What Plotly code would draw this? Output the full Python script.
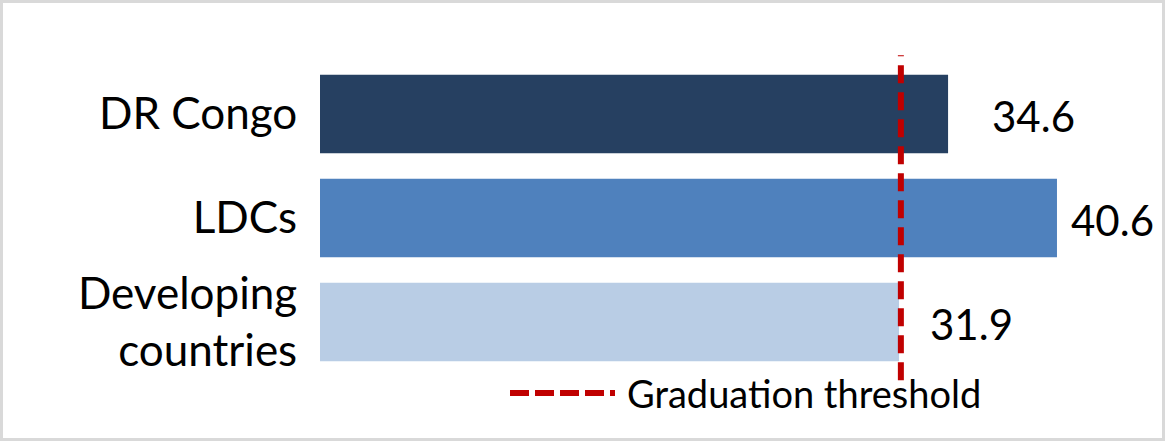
import plotly.graph_objects as go

# data
categories = ["DR Congo", "LDCs", "Developing<br>countries"]
values = [34.6, 40.6, 31.9]
value_labels = ["34.6", "40.6", "31.9"]
threshold = 32
threshold_name = "Graduation threshold"

bar_colors = ["#264061", "#4F81BD", "#B9CDE5"]
label_shift = [42, 12, 29]  # label offsets from bar end, px

W, H = 1165, 441
ml, mr, mt, mb = 320, 10, 62, 67
pw, ph = W - ml - mr, H - mt - mb
font = dict(family="Lato, Calibri, sans-serif", size=44, color="black")
value_font = dict(family="Lato, Calibri, sans-serif", size=42, color="black")
dash_line = dict(color="#C00000", width=6, dash="18px,9px")

fig = go.Figure(go.Bar(
    x=values, y=categories, orientation="h",
    marker=dict(color=bar_colors, line_width=0),
    showlegend=False, hoverinfo="skip",
))

for v, c, t, dx in zip(values, categories, value_labels, label_shift):
    fig.add_annotation(x=v, y=c, text=t, showarrow=False, xanchor="left",
                       xshift=dx, yshift=-2, font=value_font)

# threshold line
fig.add_shape(type="line", xref="x", yref="paper",
              x0=threshold, x1=threshold, y0=-0.02, y1=1.022, line=dash_line)

# legend below the bars, drawn by hand so the line sample is long like the original
leg_y = -0.061
fig.add_shape(type="line", xref="paper", yref="paper",
              x0=(510 - ml) / pw, x1=(615 - ml) / pw, y0=leg_y, y1=leg_y,
              line=dict(color="#C00000", width=6, dash="19px,6px"))
fig.add_annotation(xref="paper", yref="paper", x=(625 - ml) / pw, y=leg_y,
                   text=threshold_name, showarrow=False, xanchor="left", yanchor="middle",
                   font=dict(size=38))

# light grey frame round the chart
fig.add_shape(type="rect", xref="paper", yref="paper", layer="below",
              x0=-(ml - 1.5) / pw, x1=1 + (mr - 1.5) / pw,
              y0=-(mb - 1.5) / ph, y1=1 + (mt - 1.5) / ph,
              line=dict(color="#D9D9D9", width=3))

fig.update_layout(
    width=W, height=H,
    margin=dict(l=ml, r=mr, t=mt, b=mb),
    paper_bgcolor="white", plot_bgcolor="white",
    font=font,
    bargap=0.244,
    showlegend=False,
)
fig.update_xaxes(range=[0, 46], visible=False)
fig.update_yaxes(autorange="reversed", showgrid=False, zeroline=False, showline=False,
                 ticks="outside", ticklen=13, tickcolor="white")

fig.write_html("out.html", config={"displayModeBar": False},
               post_script="document.body.style.margin='0';")
